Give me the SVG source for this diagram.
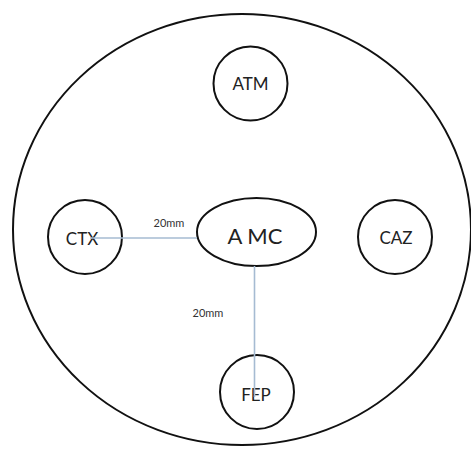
<svg xmlns="http://www.w3.org/2000/svg" width="471" height="450" viewBox="0 0 471 450">
<defs>
<style>
.sh{fill:#fff;stroke:#111;stroke-width:2}
.lb{font-family:Lato,"Liberation Sans",sans-serif;font-size:17px;fill:#222;text-anchor:middle;dominant-baseline:central}
.dim{font-family:Lato,"Liberation Sans",sans-serif;font-size:11px;fill:#333;text-anchor:middle;dominant-baseline:central}
.cn{stroke:#a6bbd2;stroke-width:1.6;fill:none}
</style>
</defs>
<rect width="471" height="450" fill="#fff"/>
<g id="boundary"><ellipse class="sh" cx="242" cy="229.5" rx="229" ry="215.5"/></g>
<g id="ATM"><circle class="sh" cx="250.5" cy="83.5" r="37"/><text class="lb" x="250.5" y="83.5">ATM</text></g>
<g id="CTX"><circle class="sh" cx="85" cy="237" r="37"/><text class="lb" x="82" y="238">CTX</text></g>
<g id="CAZ"><circle class="sh" cx="395" cy="237" r="37"/><text class="lb" x="396" y="237">CAZ</text></g>
<g id="FEP"><circle class="sh" cx="257" cy="392" r="37"/><text class="lb" x="256" y="394">FEP</text></g>
<g id="AMC"><ellipse class="sh" cx="256.5" cy="232" rx="59.5" ry="34"/><text class="lb" x="255" y="235" style="font-size:22px">A MC</text></g>
<g id="connectors">
<line class="cn" x1="90" y1="238" x2="197" y2="238"/>
<line class="cn" x1="254.5" y1="266" x2="254.5" y2="397"/>
</g>
<text class="dim" x="169" y="222">20mm</text>
<text class="dim" x="208" y="312">20mm</text>
</svg>
